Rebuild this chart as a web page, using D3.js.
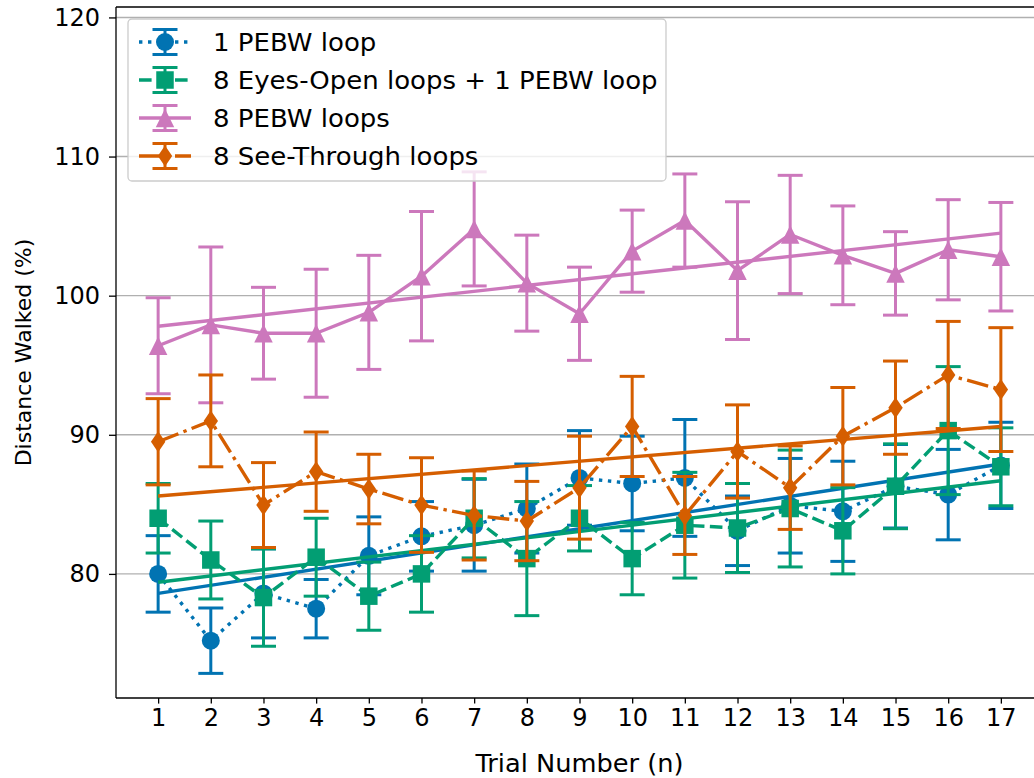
<!DOCTYPE html>
<html>
<head>
<meta charset="utf-8">
<script src="https://cdn.jsdelivr.net/npm/d3@7"></script>
<style>
  html, body { margin: 0; padding: 0; background: #fff; }
  svg { display: block; font-family: "DejaVu Sans", sans-serif; }
</style>
</head>
<body>
<svg id="chart" width="1034" height="778"></svg>
<script>
// ---------------- DATA ----------------
const trials = [1,2,3,4,5,6,7,8,9,10,11,12,13,14,15,16,17];
const xTickLabels = ["1","2","3","4","5","6","7","8","9","10","11","12","13","14","15","16","17"];
const yTickValues = [80, 90, 100, 110, 120];

const seriesNames = [
  "1 PEBW loop",
  "8 Eyes-Open loops + 1 PEBW loop",
  "8 PEBW loops",
  "8 See-Through loops"
];

const onePebwMean = [80.0, 75.2, 78.6, 77.5, 81.3, 82.7, 83.5, 84.7, 86.9, 86.5, 86.9, 83.1, 84.9, 84.5, 86.3, 85.7, 87.8];
const onePebwErr  = [2.75, 2.35, 3.2, 2.1, 2.8, 2.5, 3.3, 3.2, 3.4, 3.4, 4.2, 2.5, 3.4, 3.6, 3.0, 3.25, 3.1];

const eyesOpenMean = [84.0, 81.0, 78.3, 81.2, 78.4, 80.0, 84.0, 81.1, 84.0, 81.1, 83.5, 83.3, 84.7, 83.1, 86.3, 90.3, 87.7];
const eyesOpenErr  = [2.5, 2.8, 3.5, 2.8, 2.45, 2.75, 2.85, 4.1, 2.35, 2.6, 3.8, 3.2, 4.2, 3.1, 3.05, 4.6, 2.8];

const eightPebwMean = [96.4, 97.9, 97.3, 97.3, 98.8, 101.4, 104.8, 100.9, 98.7, 103.2, 105.4, 101.8, 104.4, 102.9, 101.6, 103.3, 102.8];
const eightPebwErr  = [3.45, 5.6, 3.3, 4.6, 4.1, 4.65, 4.1, 3.45, 3.35, 2.95, 3.35, 4.95, 4.25, 3.55, 3.0, 3.6, 3.9];

const seeThroughMean = [89.5, 91.0, 84.95, 87.35, 86.1, 84.95, 84.2, 83.8, 86.2, 90.6, 84.2, 88.8, 86.2, 89.9, 91.95, 94.3, 93.25];
const seeThroughErr  = [3.1, 3.3, 3.05, 2.85, 2.5, 3.4, 3.2, 2.85, 3.7, 3.6, 2.8, 3.35, 3.0, 3.5, 3.35, 3.85, 4.45];

// linear trend lines: value at trial 1 and trial 17
const trendTrials = [1, 17];
const onePebwTrend    = [78.6, 87.9];
const eyesOpenTrend   = [79.4, 86.7];
const eightPebwTrend  = [97.8, 104.5];
const seeThroughTrend = [85.6, 90.6];

const xLabel = "Trial Number (n)";
const yLabel = "Distance Walked (%)";

// ---------------- STYLE ----------------
const colors = ["#0173b2", "#029e73", "#cc78bc", "#d55e00"];
const dashes = ["3.4,5.6", "12.6,5.4", null, "21.8,5.4,3.4,5.4"];
const markers = ["circle", "square", "triangle", "thin_diamond"];

const series = [
  {name: seriesNames[0], mean: onePebwMean, err: onePebwErr, trend: onePebwTrend},
  {name: seriesNames[1], mean: eyesOpenMean, err: eyesOpenErr, trend: eyesOpenTrend},
  {name: seriesNames[2], mean: eightPebwMean, err: eightPebwErr, trend: eightPebwTrend},
  {name: seriesNames[3], mean: seeThroughMean, err: seeThroughErr, trend: seeThroughTrend}
].map((s, i) => ({...s, color: colors[i], dash: dashes[i], marker: markers[i]}));

const W = 1034, H = 778;
const plot = {left: 116, right: 1043, top: 7, bottom: 698};
const stretch = 1.07;

const x = d3.scaleLinear().domain([0.2, 17.8]).range([plot.left, plot.right]);
const y = d3.scaleLinear().domain([71.08, 120.75]).range([plot.bottom, plot.top]);

const svg = d3.select("#chart");
svg.append("rect").attr("width", W).attr("height", H).attr("fill", "#fff");

const clipId = "plotclip";
svg.append("clipPath").attr("id", clipId).append("rect")
  .attr("x", plot.left).attr("y", plot.top)
  .attr("width", plot.right - plot.left).attr("height", plot.bottom - plot.top);

// grid
const grid = svg.append("g");
grid.selectAll("line").data(yTickValues).join("line")
  .attr("x1", plot.left).attr("x2", plot.right)
  .attr("y1", d => y(d)).attr("y2", d => y(d))
  .attr("stroke", "#b0b0b0").attr("stroke-width", 1.4);

function markerPath(type, ms) {
  const h = ms / 2;
  if (type === "circle") return d3.symbol().type(d3.symbolCircle).size(Math.PI * h * h)();
  if (type === "square") return `M${-h},${-h}H${h}V${h}H${-h}Z`;
  if (type === "triangle") return `M0,${-h}L${h},${h}L${-h},${h}Z`;
  if (type === "thin_diamond") {
    const hh = 10.5, hw = 7.2;
    return `M0,${-hh}L${hw},0L0,${hh}L${-hw},0Z`;
  }
}
const markerSize = [18, 17.5, 18.5, 0];

const dataG = svg.append("g").attr("clip-path", `url(#${clipId})`);
const capHalf = 12.5;

series.forEach((s, si) => {
  const g = dataG.append("g");
  const pts = trials.map((t, i) => ({t, m: s.mean[i], e: s.err[i]}));
  // error bars
  const eb = g.append("g").attr("stroke", s.color).attr("stroke-width", 3);
  eb.selectAll("line.v").data(pts).join("line").attr("class", "v")
    .attr("x1", d => x(d.t)).attr("x2", d => x(d.t))
    .attr("y1", d => y(d.m - d.e)).attr("y2", d => y(d.m + d.e));
  eb.selectAll("line.ct").data(pts).join("line").attr("class", "ct")
    .attr("x1", d => x(d.t) - capHalf).attr("x2", d => x(d.t) + capHalf)
    .attr("y1", d => y(d.m + d.e)).attr("y2", d => y(d.m + d.e));
  eb.selectAll("line.cb").data(pts).join("line").attr("class", "cb")
    .attr("x1", d => x(d.t) - capHalf).attr("x2", d => x(d.t) + capHalf)
    .attr("y1", d => y(d.m - d.e)).attr("y2", d => y(d.m - d.e));
  // data line
  const line = d3.line().x(d => x(d.t)).y(d => y(d.m));
  g.append("path").datum(pts).attr("d", line)
    .attr("fill", "none").attr("stroke", s.color).attr("stroke-width", 3.4)
    .attr("stroke-dasharray", s.dash).attr("stroke-linejoin", "round");
  // markers
  g.selectAll("path.mk").data(pts).join("path").attr("class", "mk")
    .attr("d", markerPath(s.marker, markerSize[si]))
    .attr("transform", d => `translate(${x(d.t)},${y(d.m)})`)
    .attr("fill", s.color);
  // trend line
  const tp = trendTrials.map((t, i) => ({t, m: s.trend[i]}));
  g.append("path").datum(tp).attr("d", line)
    .attr("fill", "none").attr("stroke", s.color).attr("stroke-width", 3.4);
});

// axes
const xAxis = d3.axisBottom(x).tickValues(trials).tickFormat((d, i) => xTickLabels[i])
  .tickSize(5.6).tickPadding(5.6);
const gx = svg.append("g").attr("transform", `translate(0,${plot.bottom})`).call(xAxis);
const yAxis = d3.axisLeft(y).tickValues(yTickValues).tickSize(7).tickPadding(9);
const gy = svg.append("g").attr("transform", `translate(${plot.left},0)`).call(yAxis);
[gx, gy].forEach(g => {
  g.select(".domain").remove();
  g.selectAll(".tick line").attr("stroke", "#000").attr("stroke-width", 1.3);
  g.selectAll(".tick text").attr("font-size", 24).attr("fill", "#000")
    .attr("font-family", "DejaVu Sans, sans-serif");
});

// spines
const sp = svg.append("g").attr("stroke", "#000").attr("stroke-width", 1.3).attr("fill", "none");
sp.append("line").attr("x1", plot.left).attr("x2", plot.left).attr("y1", plot.top).attr("y2", plot.bottom);
sp.append("line").attr("x1", plot.left).attr("x2", plot.right).attr("y1", plot.bottom).attr("y2", plot.bottom);
sp.append("line").attr("x1", plot.left).attr("x2", plot.right).attr("y1", plot.top).attr("y2", plot.top);
sp.append("line").attr("x1", plot.right).attr("x2", plot.right).attr("y1", plot.top).attr("y2", plot.bottom);

// axis titles
svg.append("text")
  .attr("transform", `translate(${(plot.left + plot.right) / 2},772) scale(${stretch},1)`)
  .attr("text-anchor", "middle").attr("font-size", 24).text(xLabel);
svg.append("text").attr("transform", `translate(31,${(plot.top + plot.bottom) / 2}) rotate(-90)`)
  .attr("text-anchor", "middle").attr("font-size", 22).text(yLabel);

// legend
const leg = svg.append("g");
leg.append("rect").attr("x", 128).attr("y", 19).attr("width", 538).attr("height", 162)
  .attr("rx", 4).attr("fill", "#fff").attr("fill-opacity", 0.8)
  .attr("stroke", "#cccccc").attr("stroke-width", 1.3);
series.forEach((s, i) => {
  const cy = 42 + i * 38;
  const g = leg.append("g");
  g.append("line").attr("x1", 139).attr("x2", 191).attr("y1", cy).attr("y2", cy)
    .attr("stroke", s.color).attr("stroke-width", 3.4).attr("stroke-dasharray", s.dash);
  const eg = g.append("g").attr("stroke", s.color).attr("stroke-width", 3);
  eg.append("line").attr("x1", 165).attr("x2", 165).attr("y1", cy - 12.5).attr("y2", cy + 12.5);
  eg.append("line").attr("x1", 165 - capHalf).attr("x2", 165 + capHalf).attr("y1", cy - 12.5).attr("y2", cy - 12.5);
  eg.append("line").attr("x1", 165 - capHalf).attr("x2", 165 + capHalf).attr("y1", cy + 12.5).attr("y2", cy + 12.5);
  g.append("path").attr("d", markerPath(s.marker, markerSize[i]))
    .attr("transform", `translate(165,${cy})`).attr("fill", s.color);
  g.append("text").attr("transform", `translate(213,${cy}) scale(${stretch},1)`)
    .attr("dy", "0.36em")
    .attr("font-size", 24.3).attr("fill", "#000").text(s.name);
});
</script>
</body>
</html>
